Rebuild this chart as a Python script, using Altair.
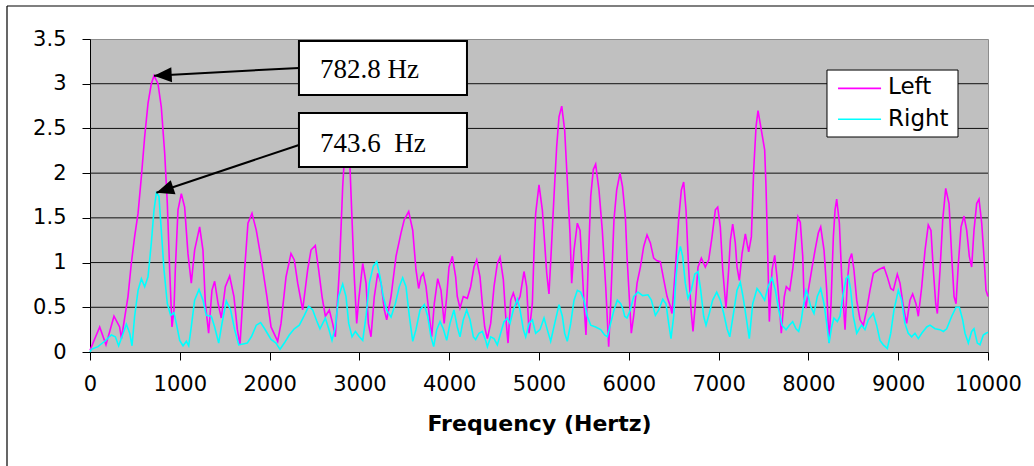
import math
import altair as alt
import pandas as pd

# ---- series ---------------------------------------------------------------
SERIES = ["Left", "Right"]
SERIES_COLORS = ["#FF00FF", "#00FFFF"]

# (frequency in Hz, magnitude)
LEFT = [
    (0, 0.02), (108, 0.28), (178, 0.08), (267, 0.40), (330, 0.28), (350, 0.15),
    (423, 0.62), (460, 0.99), (497, 1.29), (535, 1.55), (572, 1.96), (609, 2.41),
    (646, 2.78), (683, 3.00), (713, 3.09), (757, 3.00), (794, 2.74), (832, 2.22),
    (861, 1.66), (887, 0.92), (913, 0.28), (935, 0.47), (950, 0.92), (980, 1.59),
    (1017, 1.77), (1054, 1.62), (1091, 1.10), (1128, 0.77), (1165, 1.14), (1221, 1.40),
    (1258, 1.14), (1284, 0.55), (1321, 0.21), (1358, 0.69), (1388, 0.79), (1425, 0.55),
    (1462, 0.38), (1507, 0.73), (1555, 0.85), (1603, 0.62), (1641, 0.25), (1670, 0.08),
    (1722, 0.92), (1759, 1.44), (1804, 1.55), (1852, 1.36), (1908, 1.03), (1970, 0.62),
    (2016, 0.28), (2090, 0.12), (2127, 0.32), (2183, 0.84), (2238, 1.10), (2275, 1.03),
    (2313, 0.77), (2368, 0.47), (2424, 0.92), (2461, 1.14), (2509, 1.19), (2546, 0.92),
    (2584, 0.62), (2621, 0.40), (2665, 0.47), (2702, 0.32), (2732, 0.17), (2777, 0.92),
    (2814, 1.85), (2836, 2.22), (2862, 2.40), (2895, 2.07), (2918, 1.48), (2943, 0.84),
    (2970, 0.32), (2992, 0.58), (3037, 0.99), (3074, 0.77), (3100, 0.32), (3129, 0.17),
    (3166, 0.62), (3204, 0.88), (3241, 0.77), (3278, 0.47), (3304, 0.36), (3352, 0.62),
    (3408, 1.07), (3463, 1.33), (3500, 1.48), (3549, 1.57), (3594, 1.36), (3630, 0.92),
    (3660, 0.71), (3686, 0.84), (3712, 0.88), (3742, 0.73), (3779, 0.40), (3805, 0.17),
    (3834, 0.54), (3872, 0.82), (3909, 0.69), (3944, 0.32), (3972, 0.62), (3998, 0.95),
    (4035, 1.07), (4072, 0.84), (4090, 0.62), (4120, 0.49), (4157, 0.62), (4202, 0.60),
    (4239, 0.73), (4276, 0.95), (4306, 1.03), (4343, 0.84), (4369, 0.54), (4395, 0.28),
    (4425, 0.15), (4462, 0.32), (4499, 0.73), (4536, 0.99), (4566, 1.06), (4603, 0.81),
    (4629, 0.40), (4655, 0.10), (4685, 0.58), (4714, 0.66), (4752, 0.54), (4789, 0.62),
    (4833, 0.90), (4863, 0.73), (4889, 0.21), (4926, 0.54), (4945, 1.14), (4963, 1.55),
    (5000, 1.87), (5037, 1.59), (5063, 1.22), (5086, 0.88), (5111, 0.65), (5137, 1.14),
    (5167, 1.74), (5197, 2.30), (5223, 2.63), (5253, 2.75), (5286, 2.48), (5315, 1.92),
    (5345, 1.33), (5364, 0.77), (5390, 1.14), (5427, 1.44), (5457, 1.36), (5482, 0.92),
    (5501, 0.54), (5523, 0.19), (5546, 0.92), (5576, 1.74), (5605, 2.04), (5631, 2.10),
    (5668, 1.81), (5705, 1.36), (5743, 0.73), (5776, 0.06), (5798, 0.54), (5835, 1.48),
    (5865, 1.81), (5902, 2.00), (5930, 1.85), (5962, 1.51), (5980, 1.07), (5999, 0.73),
    (6028, 0.21), (6054, 0.40), (6092, 0.77), (6129, 0.95), (6166, 1.18), (6203, 1.31),
    (6240, 1.22), (6277, 1.05), (6314, 1.02), (6351, 1.01), (6389, 0.81), (6426, 0.62),
    (6463, 0.51), (6481, 0.43), (6518, 0.92), (6555, 1.48), (6585, 1.81), (6611, 1.90),
    (6637, 1.59), (6667, 0.92), (6693, 0.47), (6715, 0.23), (6741, 0.54), (6771, 0.95),
    (6808, 1.05), (6852, 0.95), (6890, 1.03), (6927, 1.29), (6964, 1.59), (6990, 1.62),
    (7019, 1.40), (7046, 0.92), (7082, 0.49), (7112, 0.92), (7131, 1.25), (7157, 1.43),
    (7186, 1.22), (7205, 0.95), (7231, 0.80), (7261, 1.10), (7298, 1.32), (7316, 1.22),
    (7335, 1.12), (7365, 1.29), (7391, 2.04), (7417, 2.52), (7439, 2.70), (7476, 2.48),
    (7513, 2.26), (7528, 1.85), (7547, 1.10), (7565, 0.34), (7595, 0.92), (7625, 1.08),
    (7650, 0.84), (7676, 0.54), (7698, 0.21), (7732, 0.62), (7754, 0.73), (7792, 0.69),
    (7825, 0.92), (7847, 1.14), (7884, 1.51), (7910, 1.45), (7937, 1.07), (7951, 0.62),
    (7973, 0.49), (7999, 0.69), (8037, 0.92), (8074, 1.14), (8110, 1.33), (8137, 1.40),
    (8174, 1.14), (8204, 0.69), (8230, 0.10), (8252, 0.54), (8278, 1.29), (8297, 1.59),
    (8315, 1.71), (8345, 1.44), (8371, 0.84), (8408, 0.25), (8433, 0.77), (8456, 1.03),
    (8482, 1.10), (8507, 0.92), (8538, 0.58), (8575, 0.36), (8612, 0.30), (8649, 0.47),
    (8686, 0.69), (8723, 0.88), (8779, 0.92), (8842, 0.95), (8879, 0.84), (8917, 0.71),
    (8946, 0.69), (8990, 0.87), (9020, 0.77), (9057, 0.51), (9094, 0.32), (9131, 0.58),
    (9161, 0.65), (9198, 0.54), (9224, 0.40), (9262, 0.73), (9299, 1.14), (9335, 1.42),
    (9365, 1.36), (9391, 0.92), (9418, 0.54), (9436, 0.43), (9466, 0.92), (9496, 1.48),
    (9529, 1.83), (9566, 1.66), (9596, 1.07), (9622, 0.62), (9644, 0.54), (9670, 0.99),
    (9700, 1.40), (9733, 1.52), (9763, 1.36), (9792, 1.07), (9818, 0.95), (9844, 1.36),
    (9874, 1.66), (9900, 1.71), (9930, 1.44), (9955, 1.07), (9978, 0.69), (10000, 0.62),
]

RIGHT = [
    (0, 0.00), (15, 0.03), (89, 0.06), (163, 0.12), (238, 0.19), (282, 0.17),
    (319, 0.07), (356, 0.17), (405, 0.31), (442, 0.21), (468, 0.07), (497, 0.40),
    (535, 0.69), (572, 0.82), (609, 0.73), (646, 0.84), (683, 1.22), (713, 1.59),
    (739, 1.78), (768, 1.74), (794, 1.36), (824, 0.92), (861, 0.54), (898, 0.41),
    (935, 0.44), (961, 0.32), (999, 0.13), (1036, 0.07), (1073, 0.12), (1099, 0.07),
    (1128, 0.28), (1165, 0.58), (1214, 0.70), (1258, 0.58), (1295, 0.41), (1351, 0.40),
    (1388, 0.28), (1433, 0.10), (1470, 0.32), (1518, 0.57), (1566, 0.47), (1611, 0.25),
    (1656, 0.08), (1704, 0.09), (1752, 0.10), (1797, 0.17), (1852, 0.30), (1900, 0.33),
    (1945, 0.26), (1975, 0.21), (2016, 0.14), (2071, 0.10), (2116, 0.03), (2164, 0.10),
    (2219, 0.19), (2275, 0.26), (2331, 0.30), (2387, 0.41), (2435, 0.51), (2480, 0.47),
    (2524, 0.35), (2561, 0.26), (2591, 0.32), (2621, 0.38), (2658, 0.26), (2695, 0.13),
    (2732, 0.28), (2769, 0.62), (2814, 0.76), (2851, 0.62), (2881, 0.32), (2918, 0.17),
    (2955, 0.23), (2999, 0.17), (3037, 0.13), (3074, 0.40), (3111, 0.77), (3155, 0.96),
    (3193, 1.01), (3230, 0.84), (3266, 0.62), (3304, 0.47), (3352, 0.39), (3400, 0.54),
    (3444, 0.73), (3482, 0.83), (3519, 0.73), (3556, 0.40), (3594, 0.12), (3630, 0.25),
    (3675, 0.47), (3723, 0.53), (3760, 0.40), (3797, 0.17), (3827, 0.06), (3861, 0.25),
    (3898, 0.34), (3934, 0.26), (3972, 0.13), (4009, 0.32), (4053, 0.47), (4090, 0.28),
    (4120, 0.17), (4157, 0.36), (4195, 0.47), (4232, 0.36), (4269, 0.17), (4295, 0.14),
    (4332, 0.21), (4369, 0.23), (4406, 0.13), (4425, 0.06), (4462, 0.17), (4499, 0.15),
    (4536, 0.08), (4573, 0.21), (4610, 0.34), (4647, 0.38), (4677, 0.32), (4714, 0.47),
    (4759, 0.59), (4789, 0.47), (4826, 0.25), (4852, 0.17), (4889, 0.32), (4926, 0.36),
    (4963, 0.21), (5011, 0.25), (5056, 0.38), (5092, 0.25), (5130, 0.12), (5175, 0.32),
    (5223, 0.53), (5260, 0.40), (5286, 0.21), (5315, 0.12), (5353, 0.32), (5390, 0.58),
    (5427, 0.69), (5464, 0.67), (5501, 0.58), (5538, 0.40), (5576, 0.30), (5631, 0.28),
    (5687, 0.25), (5731, 0.19), (5761, 0.17), (5798, 0.32), (5835, 0.47), (5872, 0.58),
    (5910, 0.54), (5935, 0.48), (5954, 0.40), (5980, 0.38), (6017, 0.47), (6054, 0.62),
    (6102, 0.67), (6155, 0.63), (6214, 0.64), (6251, 0.58), (6296, 0.41), (6333, 0.47),
    (6378, 0.59), (6414, 0.54), (6444, 0.32), (6470, 0.15), (6500, 0.40), (6526, 0.84),
    (6548, 1.07), (6574, 1.18), (6600, 1.07), (6629, 0.77), (6659, 0.60), (6696, 0.69),
    (6734, 0.87), (6771, 0.90), (6801, 0.69), (6834, 0.40), (6860, 0.30), (6896, 0.43),
    (6934, 0.58), (6979, 0.67), (7019, 0.58), (7057, 0.43), (7094, 0.26), (7124, 0.17),
    (7161, 0.40), (7205, 0.69), (7242, 0.78), (7272, 0.62), (7305, 0.40), (7342, 0.15),
    (7380, 0.54), (7428, 0.71), (7465, 0.66), (7513, 0.58), (7550, 0.73), (7595, 0.83),
    (7632, 0.69), (7669, 0.47), (7706, 0.30), (7751, 0.25), (7788, 0.30), (7825, 0.34),
    (7862, 0.26), (7892, 0.23), (7920, 0.35), (7937, 0.47), (7973, 0.69), (7999, 0.62),
    (8025, 0.51), (8062, 0.43), (8099, 0.62), (8137, 0.71), (8174, 0.54), (8204, 0.32),
    (8230, 0.10), (8259, 0.28), (8284, 0.38), (8322, 0.34), (8352, 0.40), (8382, 0.62),
    (8419, 0.82), (8445, 0.85), (8471, 0.69), (8500, 0.40), (8538, 0.21), (8567, 0.26),
    (8592, 0.30), (8630, 0.25), (8667, 0.36), (8723, 0.43), (8760, 0.30), (8797, 0.13),
    (8834, 0.08), (8879, 0.04), (8917, 0.21), (8953, 0.47), (9001, 0.69), (9038, 0.58),
    (9075, 0.32), (9112, 0.21), (9150, 0.17), (9187, 0.21), (9224, 0.15), (9262, 0.21),
    (9318, 0.28), (9354, 0.30), (9410, 0.26), (9466, 0.25), (9503, 0.23), (9540, 0.26),
    (9596, 0.40), (9644, 0.50), (9681, 0.50), (9718, 0.36), (9744, 0.21), (9781, 0.10),
    (9818, 0.23), (9844, 0.26), (9881, 0.10), (9911, 0.08), (9948, 0.19), (9978, 0.21),
    (10000, 0.22),
]

# ---- axes -----------------------------------------------------------------
X_TICKS = [0, 1000, 2000, 3000, 4000, 5000, 6000, 7000, 8000, 9000, 10000]
Y_TICKS = [0, 0.5, 1.0, 1.5, 2.0, 2.5, 3.0, 3.5]
GRID_VALUES = [0.5, 1.0, 1.5, 2.0, 2.5, 3.0]
X_TITLE = "Frequency (Hertz)"

# ---- peak call-outs -------------------------------------------------------
CALLOUT_TEXT = ["782.8 Hz", "743.6\u00a0 Hz"]
CALLOUT_BOX_F = (2327, 4198)
CALLOUT_BOX_V = [(2.874, 3.478), (2.069, 2.672)]
CALLOUT_TEXT_F = 2561
CALLOUT_TEXT_V = [3.064, 2.239]
CALLOUT_TAIL_V = [3.176, 2.315]

# ---- legend box -------------------------------------------------------------
LEGEND_BOX_F = (8207, 9666)
LEGEND_BOX_V = (2.404, 3.153)
LEGEND_LINE_F = (8330, 8809)
LEGEND_LINE_V = [2.948, 2.602]
LEGEND_TEXT_F = 8887
LEGEND_TEXT_V = [2.885, 2.527]

W, H = 898, 313
X_MAX, Y_MAX = 10000, 3.5

xs = alt.Scale(domain=[0, X_MAX], nice=False, zero=True)
ys = alt.Scale(domain=[0, Y_MAX], nice=False, zero=True)

AX_FONT = "DejaVu Sans"

x_axis = alt.Axis(
    values=X_TICKS, grid=False, tickSize=8, tickColor="black",
    domainColor="black", labelFont=AX_FONT, labelFontSize=21,
    labelColor="black", labelPadding=13, labelFlush=False,
    titleFont=AX_FONT, titleFontSize=22, titleFontWeight="bold",
    titleColor="black", titlePadding=19, format="d",
)
y_axis = alt.Axis(
    values=Y_TICKS, grid=False, tickSize=8, tickColor="black",
    domainColor="black", labelFont=AX_FONT, labelFontSize=21,
    labelColor="black", labelPadding=16, format="~g", labelFlush=False,
)


def X(field):
    return alt.X(field, scale=xs, title=X_TITLE, axis=x_axis)


def Y(field):
    return alt.Y(field, scale=ys, title=None, axis=y_axis)


series_color = alt.Color(
    "series:N", scale=alt.Scale(domain=SERIES, range=SERIES_COLORS), legend=None
)

rows = []
for name, pts in zip(SERIES, [LEFT, RIGHT]):
    for f, v in pts:
        rows.append({"series": name, "freq": f, "value": v})
spectrum = pd.DataFrame(rows)

# horizontal grid lines
grid = alt.Chart(pd.DataFrame({"v": GRID_VALUES})).mark_rule(
    color="#111111", strokeWidth=1
).encode(y=Y("v:Q"))

lines = alt.Chart(spectrum).mark_line(strokeWidth=1.6, interpolate="linear").encode(
    x=X("freq:Q"), y=Y("value:Q"), color=series_color,
)

# call-out boxes, arrows and labels pointing at each series maximum
peaks = [max(pts, key=lambda p: p[1]) for pts in (LEFT, RIGHT)]
sx, sy = W / X_MAX, H / Y_MAX
boxes, arrows, heads, labels = [], [], [], []
for i, text in enumerate(CALLOUT_TEXT):
    boxes.append({"f": CALLOUT_BOX_F[0], "f2": CALLOUT_BOX_F[1],
                  "v": CALLOUT_BOX_V[i][0], "v2": CALLOUT_BOX_V[i][1]})
    tip_f, tip_v = peaks[i]
    tail_f, tail_v = CALLOUT_BOX_F[0], CALLOUT_TAIL_V[i]
    arrows.append({"id": i, "f": tail_f, "v": tail_v, "k": 0})
    arrows.append({"id": i, "f": tip_f, "v": tip_v, "k": 1})
    ang = math.degrees(math.atan2(-(tip_v - tail_v) * sy, (tip_f - tail_f) * sx)) % 360
    heads.append({"f": tip_f, "v": tip_v, "angle": ang})
    labels.append({"f": CALLOUT_TEXT_F, "v": CALLOUT_TEXT_V[i], "text": text})

box_layer = alt.Chart(pd.DataFrame(boxes)).mark_rect(
    fill="white", stroke="black", strokeWidth=2
).encode(x=X("f:Q"), x2="f2:Q", y=Y("v:Q"), y2="v2:Q")

arrow_layer = alt.Chart(pd.DataFrame(arrows)).mark_line(color="black", strokeWidth=2).encode(
    x=X("f:Q"), y=Y("v:Q"), detail="id:N", order="k:Q",
)

head_layer = alt.Chart(pd.DataFrame(heads)).mark_point(
    shape="M0,0L-1,-0.42L-1,0.42Z", filled=True, size=1250,
    color="black", opacity=1, strokeWidth=0,
).encode(x=X("f:Q"), y=Y("v:Q"), angle=alt.Angle("angle:Q", scale=None))

label_layer = alt.Chart(pd.DataFrame(labels)).mark_text(
    font="Liberation Serif", fontSize=27, align="left", baseline="alphabetic", color="black"
).encode(x=X("f:Q"), y=Y("v:Q"), text="text:N")

# legend
legend_box = alt.Chart(pd.DataFrame([{
    "f": LEGEND_BOX_F[0], "f2": LEGEND_BOX_F[1], "v": LEGEND_BOX_V[0], "v2": LEGEND_BOX_V[1]
}])).mark_rect(fill="white", stroke="black", strokeWidth=1).encode(
    x=X("f:Q"), x2="f2:Q", y=Y("v:Q"), y2="v2:Q",
)

leg_rows = pd.DataFrame({
    "series": SERIES,
    "f": [LEGEND_LINE_F[0]] * len(SERIES),
    "f2": [LEGEND_LINE_F[1]] * len(SERIES),
    "v": LEGEND_LINE_V,
    "tf": [LEGEND_TEXT_F] * len(SERIES),
    "tv": LEGEND_TEXT_V,
})
legend_lines = alt.Chart(leg_rows).mark_rule(strokeWidth=1.6).encode(
    x=X("f:Q"), x2="f2:Q", y=Y("v:Q"), color=series_color,
)
legend_text = alt.Chart(leg_rows).mark_text(
    font=AX_FONT, fontSize=23, align="left", baseline="alphabetic", color="black"
).encode(x=X("tf:Q"), y=Y("tv:Q"), text="series:N")

# outer frame (left and top edges)
frame_left = alt.Chart(pd.DataFrame({"a": [0]})).mark_rule(color="black", strokeWidth=1.2).encode(
    x=alt.value(-83), y=alt.value(-33), y2=alt.value(440)
)
frame_top = alt.Chart(pd.DataFrame({"a": [0]})).mark_rule(color="black", strokeWidth=1.2).encode(
    x=alt.value(-83), x2=alt.value(950), y=alt.value(-33)
)

chart = alt.layer(
    grid, lines, arrow_layer, head_layer, box_layer, label_layer,
    legend_box, legend_lines, legend_text, frame_left, frame_top,
).properties(
    width=W, height=H,
    autosize=alt.AutoSizeParams(type="none"),
    padding={"left": 90, "top": 39, "right": 46, "bottom": 114},
    background="white",
).configure_view(
    fill="#C0C0C0", stroke="#8c8c8c", strokeWidth=1,
)

chart.save("out.html", embed_options={"renderer": "svg", "actions": False})
